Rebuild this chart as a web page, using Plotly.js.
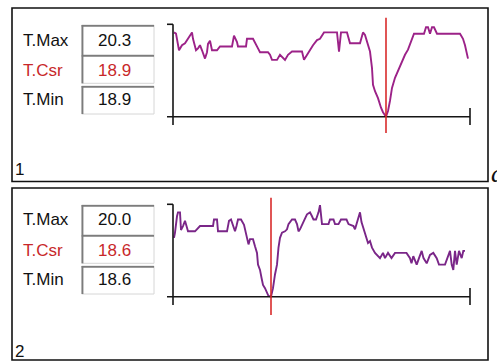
<!DOCTYPE html>
<html>
<head>
<meta charset="utf-8">
<script src="https://cdn.plot.ly/plotly-3.0.1.min.js"></script>
<style>
  html, body { margin: 0; padding: 0; background: #ffffff; }
  #chart { width: 497px; height: 361px; }
</style>
</head>
<body>
<div id="chart"></div>
<script>
// Channel 1: sample number and temperature
const trace1Time = [1, 3, 6, 9, 12, 19, 20, 23, 25, 27, 29, 32, 34, 35, 37, 39, 44, 47, 59, 61,
  64, 65, 73, 74, 80, 83, 85, 87, 95, 97, 99, 104, 107, 112, 115, 119, 129, 131, 134, 137,
  140, 144, 147, 151, 164, 166, 168, 174, 177, 187, 190, 192, 195, 197, 199, 200, 202, 205, 208, 210,
  213, 215, 217, 219, 222, 225, 229, 232, 235, 239, 241, 251, 253, 255, 257, 259, 261, 264, 287, 290,
  292, 295];
const trace1Temp = [20.22, 20.20, 19.94, 20.02, 20.05, 20.22, 20.12, 19.94, 19.97, 20.02, 19.94, 19.81, 19.91, 20.04, 20.09, 19.94, 19.94, 20.00, 20.00, 20.17,
  20.07, 20.00, 20.00, 20.12, 20.12, 20.04, 19.97, 19.91, 19.91, 19.87, 19.79, 19.79, 19.87, 19.79, 19.87, 19.92, 19.92, 19.79, 19.87, 19.95,
  20.02, 20.10, 20.12, 20.22, 20.22, 19.92, 20.22, 20.22, 20.05, 20.05, 20.22, 20.18, 20.02, 19.92, 19.66, 19.40, 19.30, 19.19, 19.04, 18.97,
  18.90, 18.99, 19.15, 19.35, 19.51, 19.62, 19.77, 19.87, 19.95, 20.10, 20.20, 20.20, 20.30, 20.30, 20.20, 20.30, 20.30, 20.20, 20.20, 20.12,
  20.02, 19.81];
const trace1Cursor = 213;

// Channel 2: sample number and temperature
const trace2Time = [1, 2, 4, 5, 7, 8, 10, 12, 13.5, 15, 22, 24, 27, 40, 41, 44, 45, 54, 56, 58,
  60, 62, 63.5, 65, 68, 70, 71, 74, 75.5, 77, 80, 82, 84, 85, 87, 88.5, 90, 92, 94, 95.5,
  98, 100, 102, 104, 105.5, 107, 109, 112, 114, 115.5, 119, 122, 124, 125.5, 127, 129, 131.5, 134, 137, 139,
  140.5, 143, 145.5, 147, 148, 149, 155.5, 157, 160.5, 162, 165.5, 168, 173.5, 175.5, 180.5, 182, 184.5, 187, 188.5, 190.5,
  192, 195, 197, 199, 202, 205, 207, 210, 212, 215, 218.5, 222, 233.5, 237, 238.5, 240.3, 243.7, 246, 248.7, 250.5,
  253.7, 257, 260.3, 263.7, 266, 272, 274.7, 277, 278.7, 280.3, 282, 283.7, 286, 288.7, 290.3, 292];
const trace2Temp = [19.50, 19.58, 19.83, 19.89, 19.89, 19.62, 19.68, 19.76, 19.68, 19.60, 19.60, 19.63, 19.68, 19.68, 19.78, 19.78, 19.60, 19.60, 19.76, 19.78,
  19.68, 19.60, 19.68, 19.78, 19.78, 19.73, 19.70, 19.50, 19.40, 19.48, 19.48, 19.37, 19.27, 19.09, 19.01, 18.89, 18.78, 18.73, 18.66, 18.61,
  18.60, 18.73, 18.94, 19.09, 19.35, 19.50, 19.58, 19.60, 19.63, 19.71, 19.78, 19.78, 19.71, 19.60, 19.63, 19.71, 19.78, 19.86, 19.89, 19.83,
  19.78, 19.78, 19.89, 20.00, 19.89, 19.71, 19.71, 19.78, 19.78, 19.71, 19.71, 19.78, 19.78, 19.71, 19.68, 19.63, 19.76, 19.89, 19.74, 19.63,
  19.55, 19.42, 19.45, 19.35, 19.27, 19.22, 19.19, 19.27, 19.19, 19.27, 19.19, 19.27, 19.27, 19.19, 19.11, 19.22, 19.09, 19.19, 19.30, 19.19,
  19.11, 19.24, 19.27, 19.19, 19.09, 19.09, 19.22, 19.30, 19.09, 19.01, 19.30, 19.09, 19.30, 19.19, 19.30, 19.30];
const trace2Cursor = 98;

const fieldLabels = ['T.Max', 'T.Csr', 'T.Min'];
const panelNumbers = ['1', '2'];
const panelCaptions = ['a', 'b'];

const W = 497, H = 361;
const px = x => x / W;          // pixel -> paper x
const py = y => 1 - y / H;      // pixel -> paper y

const panels = [
  { time: trace1Time, temp: trace1Temp, cursor: trace1Cursor, off: 0, boxBottom: 181.5,
    color: '#9c2288', yRange: [18.770, 20.347] },
  { time: trace2Time, temp: trace2Temp, cursor: trace2Cursor, off: 180, boxBottom: 360,
    color: '#7a2688', yRange: [18.473, 20.013] }
];

const data = [];
const shapes = [];
const annotations = [];
const layout = {
  width: W, height: H,
  margin: { l: 0, r: 0, t: 0, b: 0 },
  paper_bgcolor: '#ffffff',
  plot_bgcolor: 'rgba(0,0,0,0)',
  showlegend: false
};

const AX = '#151515';
const labelFont = 'Liberation Sans, Arial, sans-serif';
const valueFont = 'Liberation Sans Narrow, Liberation Sans, Arial, sans-serif';

panels.forEach((p, i) => {
  const n = i === 0 ? '' : String(i + 1);
  const xa = 'x' + n, ya = 'y' + n;
  const o = p.off;

  layout['xaxis' + n] = {
    domain: [px(173), px(470)], range: [0, 297], anchor: ya, visible: false, fixedrange: true
  };
  layout['yaxis' + n] = {
    domain: [py(o + 125), py(o + 24.3)], range: p.yRange, anchor: xa, visible: false, fixedrange: true
  };

  data.push({
    type: 'scatter', mode: 'lines', x: p.time, y: p.temp,
    xaxis: xa, yaxis: ya,
    line: { color: p.color, width: 1.9 },
    hoverinfo: 'skip'
  });

  const tMax = Math.max(...p.temp);
  const tMin = Math.min(...p.temp);
  const tCsr = p.temp[p.time.indexOf(p.cursor)];

  // outer frame of the channel
  shapes.push({ type: 'rect', xref: 'paper', yref: 'paper',
    x0: px(12), x1: px(488), y0: py(p.boxBottom), y1: py(o + 8),
    line: { color: '#111111', width: 1.6 }, fillcolor: 'rgba(0,0,0,0)', layer: 'below' });

  // value fields with sunken edges
  const fields = [[25, 55], [55, 83.3], [86, 114]];
  fields.forEach(([t, b]) => {
    shapes.push({ type: 'rect', xref: 'paper', yref: 'paper',
      x0: px(81.7), x1: px(154), y0: py(o + b), y1: py(o + t),
      line: { color: '#d6d6d6', width: 1 }, fillcolor: '#ffffff', layer: 'below' });
    shapes.push({ type: 'line', xref: 'paper', yref: 'paper',
      x0: px(81.7), x1: px(154), y0: py(o + t + 0.8), y1: py(o + t + 0.8),
      line: { color: '#7c7c7c', width: 1.8 } });
    shapes.push({ type: 'line', xref: 'paper', yref: 'paper',
      x0: px(82.5), x1: px(82.5), y0: py(o + b), y1: py(o + t),
      line: { color: '#7c7c7c', width: 1.8 } });
  });

  // y axis line and its top tick
  shapes.push({ type: 'line', xref: xa + ' domain', yref: ya + ' domain',
    x0: 0, x1: 0, y0: 0, y1: 1, line: { color: AX, width: 1.6 } });
  shapes.push({ type: 'line', xref: xa + ' domain', yref: ya + ' domain',
    x0: -6 / 297, x1: 0, y0: 1, y1: 1, line: { color: AX, width: 1.6 } });
  // x axis line at the minimum, with the end tick
  shapes.push({ type: 'line', xref: xa + ' domain', yref: ya,
    x0: -6 / 297, x1: 1, y0: tMin, y1: tMin, line: { color: AX, width: 1.6 } });
  shapes.push({ type: 'line', xref: xa + ' domain', yref: ya + ' domain',
    x0: 1, x1: 1, y0: 0, y1: 17 / 100.7, line: { color: AX, width: 1.6 } });
  // cursor
  shapes.push({ type: 'line', xref: xa, yref: ya + ' domain',
    x0: p.cursor, x1: p.cursor, y0: -(i === 0 ? 8 : 10) / 100.7, y1: 1 + 6.5 / 100.7,
    line: { color: '#d92b2b', width: 1.6 } });

  const values = [tMax, tCsr, tMin];
  const rows = [40, 70, 99.5];
  fieldLabels.forEach((lab, k) => {
    const col = k === 1 ? '#c8282a' : '#111111';
    annotations.push({ xref: 'paper', yref: 'paper', x: px(20.5), y: py(o + rows[k]),
      xanchor: 'left', yanchor: 'middle', showarrow: false, text: lab,
      font: { family: labelFont, size: 17, color: col } });
    annotations.push({ xref: 'paper', yref: 'paper', x: px(114.5), y: py(o + rows[k]),
      xanchor: 'center', yanchor: 'middle', showarrow: false, text: values[k].toFixed(1),
      font: { family: valueFont, size: 17, color: col } });
  });

  annotations.push({ xref: 'paper', yref: 'paper', x: px(12.5), y: py(o + (i === 0 ? 170 : 171)),
    xanchor: 'left', yanchor: 'middle', showarrow: false, text: panelNumbers[i],
    font: { family: labelFont, size: 17, color: '#111111' } });

  annotations.push({ xref: 'paper', yref: 'paper', x: px(488.5), y: py(o + (i === 0 ? 190 : 365)),
    xanchor: 'left', yanchor: 'bottom', showarrow: false,
    text: '<i>' + panelCaptions[i] + '</i>',
    font: { family: 'Liberation Serif, Times New Roman, serif', size: 26, color: '#111111' } });
});

layout.shapes = shapes;
layout.annotations = annotations;

Plotly.newPlot('chart', data, layout, { staticPlot: true, displayModeBar: false });
</script>
</body>
</html>
